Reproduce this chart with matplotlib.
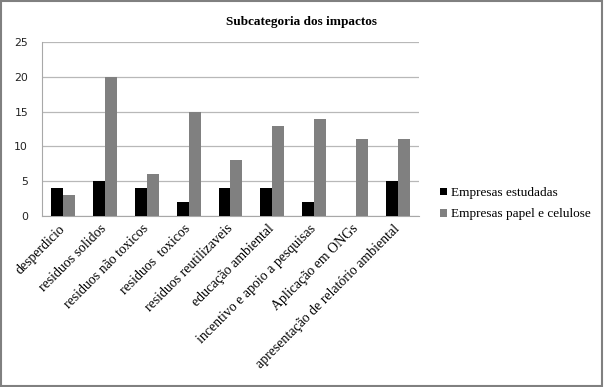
import numpy as np
import matplotlib.pyplot as plt
from matplotlib.patches import Rectangle

categorias = ['desperdicio', 'residuos solidos', 'residuos não toxicos', 'residuos  toxicos',
              'residuos reutilizaveis', 'educação ambiental', 'incentivo e apoio a pesquisas',
              'Aplicação em ONGs', 'apresentação de relatório ambiental']
estudadas = [4, 5, 4, 2, 4, 4, 2, 0, 5]
papel = [3, 20, 6, 15, 8, 13, 14, 11, 11]
yticks = [0, 5, 10, 15, 20, 25]

fig = plt.figure(figsize=(6.04, 3.87), dpi=100)
ax = fig.add_axes([0.0695, 0.4426, 0.6242, 0.448])

x = np.arange(len(categorias))
w = 0.286
ax.bar(x - w / 2, estudadas, w, color='black', label='Empresas estudadas', zorder=3)
ax.bar(x + w / 2, papel, w, color='#808080', label='Empresas papel e celulose', zorder=3)

ax.set_xlim(-0.5, len(categorias) - 0.5)
ax.set_ylim(0, 25)
ax.set_yticks(yticks)
ax.yaxis.grid(True, color='#b8b8b8', linewidth=0.9, zorder=0)
ax.tick_params(axis='y', length=0, labelsize=7.8, pad=10, labelcolor='#222222')
ax.tick_params(axis='x', length=0, pad=8)
for s in ['top', 'right']:
    ax.spines[s].set_visible(False)
for s in ['left', 'bottom']:
    ax.spines[s].set_color('#a8a8a8')
ax.set_xticks(x)
ax.set_xticklabels(categorias, rotation=45, ha='right', va='center', rotation_mode='anchor',
                   family='Liberation Serif', fontsize=10)

fig.text(0.5, 0.943, 'Subcategoria dos impactos', ha='center', va='center',
         family='Liberation Serif', fontweight='bold', fontsize=9.5)

fig.legend(loc='upper left', bbox_to_anchor=(0.709, 0.547), frameon=False,
           prop={'family': 'Liberation Serif', 'size': 9.5}, handlelength=0.55,
           handleheight=0.55, handletextpad=0.25, labelspacing=0.7)

fig.patches.append(Rectangle((0.002, 0.003), 0.995, 0.994, transform=fig.transFigure,
                             fill=False, edgecolor='#808080', linewidth=1.5))

fig.savefig('out.png', dpi=100)
